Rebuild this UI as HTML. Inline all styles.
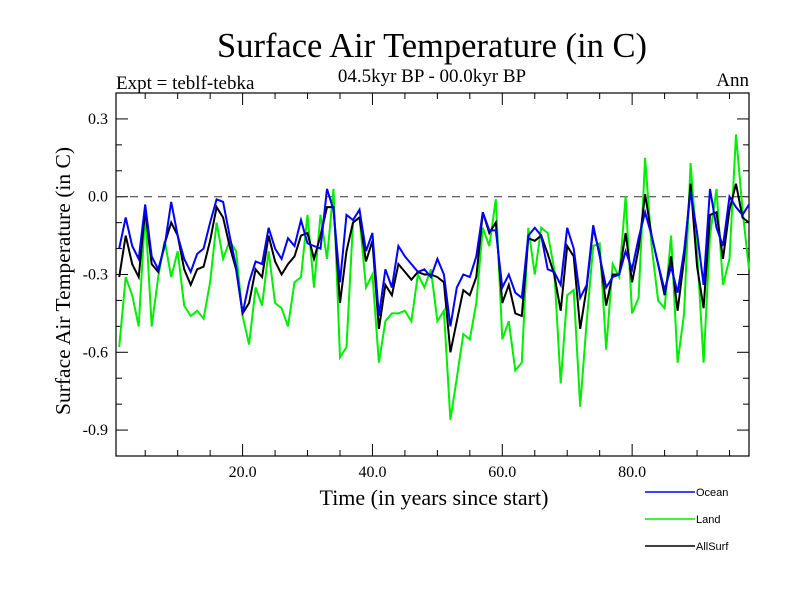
<!DOCTYPE html>
<html><head><meta charset="utf-8"><style>body{margin:0;background:#fff}svg text{font-family:"Liberation Serif",serif}</style></head>
<body>
<svg id="chart" width="800" height="600" xmlns="http://www.w3.org/2000/svg">
<text x="432" y="57" font-size="34.5" text-anchor="middle">Surface Air Temperature (in C)</text>
<text x="432" y="82" font-size="19" text-anchor="middle">04.5kyr BP - 00.0kyr BP</text>
<text x="116" y="89" font-size="19">Expt = teblf-tebka</text>
<text x="749" y="86" font-size="19" text-anchor="end">Ann</text>
<text transform="translate(70,281) rotate(-90)" font-size="21.5" text-anchor="middle">Surface Air Temperature (in C)</text>
<text x="434" y="505" font-size="22" text-anchor="middle">Time (in years since start)</text>
<g id="axes"></g>
<g id="series"></g>
<g id="legend"></g>
</svg>
<script>
const years = Array.from({length:98},(_,i)=>i+1);
const xTicks = [20,40,60,80];
const xTickLabels = ["20.0","40.0","60.0","80.0"];
const yTicks = [0.3,0.0,-0.3,-0.6,-0.9];
const yTickLabels = ["0.3","0.0","-0.3","-0.6","-0.9"];
const seriesNames = ["Ocean","Land","AllSurf"];
const ocean = [-0.20,-0.08,-0.19,-0.24,-0.03,-0.23,-0.28,-0.19,-0.02,-0.15,-0.24,-0.29,-0.22,-0.20,-0.10,-0.01,-0.02,-0.15,-0.27,-0.45,-0.33,-0.25,-0.26,-0.12,-0.20,-0.24,-0.16,-0.19,-0.09,-0.18,-0.19,-0.20,0.03,-0.05,
-0.33,-0.07,-0.09,-0.05,-0.21,-0.14,-0.46,-0.28,-0.35,-0.19,-0.23,-0.26,-0.29,-0.28,-0.31,-0.24,-0.30,-0.50,-0.35,-0.30,-0.31,-0.23,-0.06,-0.13,-0.13,-0.35,-0.30,-0.37,-0.39,
-0.15,-0.12,-0.15,-0.28,-0.29,-0.34,-0.12,-0.20,-0.39,-0.34,-0.11,-0.23,-0.35,-0.31,-0.30,-0.21,-0.28,-0.16,-0.06,-0.15,-0.26,-0.36,-0.27,-0.37,-0.21,0.02,-0.14,-0.34,0.03,-0.12,-0.19,0.00,-0.04,-0.07,-0.03];
const land = [-0.58,-0.31,-0.38,-0.50,-0.06,-0.50,-0.31,-0.17,-0.31,-0.21,-0.42,-0.46,-0.44,-0.47,-0.33,-0.10,-0.24,-0.17,-0.21,-0.46,-0.57,-0.35,-0.42,-0.21,-0.41,-0.43,-0.50,-0.33,-0.31,-0.07,-0.35,-0.07,-0.24,0.03,
-0.62,-0.58,-0.10,-0.08,-0.35,-0.30,-0.64,-0.48,-0.45,-0.45,-0.44,-0.48,-0.30,-0.35,-0.28,-0.48,-0.44,-0.86,-0.70,-0.53,-0.55,-0.41,-0.12,-0.19,-0.01,-0.55,-0.48,-0.67,-0.64,
-0.12,-0.30,-0.12,-0.14,-0.28,-0.72,-0.38,-0.36,-0.81,-0.48,-0.19,-0.18,-0.59,-0.26,-0.31,0.00,-0.45,-0.39,0.15,-0.19,-0.40,-0.43,-0.15,-0.64,-0.45,0.13,-0.21,-0.64,-0.15,0.03,-0.34,-0.24,0.24,-0.05,-0.28];
const allSurf = [-0.31,-0.15,-0.26,-0.31,-0.05,-0.26,-0.29,-0.18,-0.10,-0.15,-0.28,-0.34,-0.28,-0.27,-0.17,-0.04,-0.08,-0.19,-0.28,-0.45,-0.41,-0.28,-0.31,-0.15,-0.25,-0.30,-0.26,-0.23,-0.15,-0.14,-0.24,-0.15,-0.04,-0.04,
-0.41,-0.21,-0.10,-0.08,-0.25,-0.17,-0.51,-0.34,-0.38,-0.26,-0.29,-0.32,-0.29,-0.30,-0.30,-0.31,-0.33,-0.60,-0.48,-0.36,-0.38,-0.31,-0.06,-0.14,-0.10,-0.41,-0.34,-0.45,-0.46,
-0.16,-0.17,-0.15,-0.22,-0.30,-0.44,-0.19,-0.23,-0.51,-0.35,-0.12,-0.22,-0.42,-0.30,-0.30,-0.14,-0.33,-0.20,0.01,-0.15,-0.26,-0.38,-0.23,-0.44,-0.24,0.05,-0.27,-0.43,-0.07,-0.06,-0.24,-0.05,0.05,-0.08,-0.10];

const L=116,R=749,T=93,B=456, X0=0.5,X1=98, Y0=-1.0,Y1=0.4;
const xs=v=>L+(v-X0)/(X1-X0)*(R-L);
const ys=v=>B-(v-Y0)/(Y1-Y0)*(B-T);
const NS="http://www.w3.org/2000/svg";
function mk(tag,attrs,parent){const e=document.createElementNS(NS,tag);for(const k in attrs)e.setAttribute(k,attrs[k]);parent.appendChild(e);return e;}
const axes=document.getElementById('axes');
const frame=mk('rect',{x:L,y:T,width:R-L,height:B-T,fill:'none',stroke:'#000','stroke-width':1.2},axes);


for(let v=5;v<X1;v+=5){const maj=v%20===0;const x=xs(v);const len=maj?12:6;
 const t1=mk('line',{x1:x,x2:x,y1:B,y2:B-len,stroke:'#000'},axes);
 
 
 const t2=mk('line',{x1:x,x2:x,y1:T,y2:T+len,stroke:'#000'},axes);
 
 }
xTicks.forEach((v,i)=>{const t=mk('text',{x:xs(v),y:477,'font-size':16,'text-anchor':'middle'},axes);t.textContent=xTickLabels[i];
 
 });
for(let k=-9;k<=4;k++){const v=k/10;const maj=(k%3===0);const y=ys(v);const len=maj?12:6;
 const a=mk('line',{x1:L,x2:L+len,y1:y,y2:y,stroke:'#000'},axes);
 
 
 const b=mk('line',{x1:R,x2:R-len,y1:y,y2:y,stroke:'#000'},axes);
 
 }
yTicks.forEach((v,i)=>{const t=mk('text',{x:L-8,y:ys(v)+5,'font-size':16,'text-anchor':'end'},axes);t.textContent=yTickLabels[i];
 
 });
const zl=mk('line',{x1:L,x2:R,y1:ys(0),y2:ys(0),stroke:'#333','stroke-dasharray':'8,6'},axes);


const g=document.getElementById('series');
const data=[ocean,land,allSurf], colors=['#0000ff','#00ee00','#000000'], order=[1,2,0];
order.forEach(si=>{const pts=data[si].map((v,i)=>xs(years[i]).toFixed(1)+','+ys(v).toFixed(1)).join(' ');
 const p=mk('polyline',{points:pts,fill:'none',stroke:colors[si],'stroke-width':2,'stroke-linejoin':'miter'},g);
 
 });
const lg=document.getElementById('legend');
seriesNames.forEach((n,i)=>{const y=492+i*27;
 const ln=mk('line',{x1:645,x2:695,y1:y,y2:y,stroke:colors[i],'stroke-width':1.5},lg);
 
 
 const t=mk('text',{x:696,y:y+4,'font-size':11,style:'font-family:"Liberation Sans",sans-serif'},lg);t.textContent=n;
 
 });
</script>
</body></html>
